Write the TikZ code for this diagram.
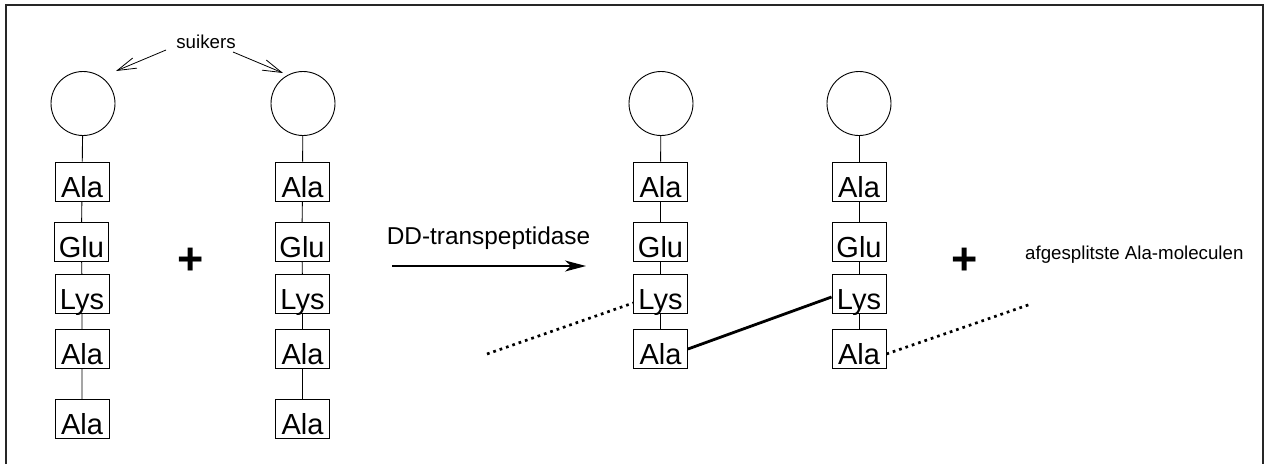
\documentclass[tikz,border=0pt]{standalone}
\usepackage{fontspec}
\setmainfont{Liberation Sans}
\usetikzlibrary{arrows.meta,calc}

\begin{document}
\begin{tikzpicture}[x=1pt,y=-1pt,
  sugar/.style={circle,draw,line width=0.9pt,minimum size=64pt,inner sep=0pt},
  aa/.style={draw,line width=0.9pt,minimum width=54pt,inner xsep=0pt,inner ysep=0pt,
             text height=35pt,text depth=4pt,font=\fontsize{29}{30}\selectfont},
  link/.style={line width=0.9pt},
  plusnode/.style={font=\fontsize{45}{45}\selectfont\bfseries,inner sep=0pt},
  smalltext/.style={font=\fontsize{18.7}{20}\selectfont,inner sep=0pt},
  bigtext/.style={font=\fontsize{24.4}{26}\selectfont,inner sep=0pt},
  dotline/.style={line width=2.7pt,dash pattern=on 2.7pt off 4pt},
  crosslink/.style={line width=2.8pt},
  pointer/.style={line width=0.8pt,-{Straight Barb[length=19pt,width=11pt]}}]

  \useasboundingbox (0,0) rectangle (1266,464);

  % frame (open at the bottom)
  \draw[line width=1.6pt,black!85] (6,464) -- (6,5) -- (1263,5) -- (1263,464);

  % left chain 1
  \node[sugar] (s1) at (83,103.5) {};
  \node[aa] (a11) at (82,181.5) {Ala};
  \node[aa] (g1)  at (81.5,242) {Glu};
  \node[aa] (l1)  at (82,294) {Lys};
  \node[aa] (a14) at (82,349) {Ala};
  \node[aa] (a15) at (82,419) {Ala};
  \draw[link] (s1) -- (a11) (a11) -- (g1) (g1) -- (l1) (l1) -- (a14) (a14) -- (a15);

  % left chain 2
  \node[sugar] (s2) at (303,103.5) {};
  \node[aa] (a21) at (302.5,181.5) {Ala};
  \node[aa] (g2)  at (302,242) {Glu};
  \node[aa] (l2)  at (302.5,294) {Lys};
  \node[aa] (a24) at (302.5,349) {Ala};
  \node[aa] (a25) at (302.5,419) {Ala};
  \draw[link] (s2) -- (a21) (a21) -- (g2) (g2) -- (l2) (l2) -- (a24) (a24) -- (a25);

  % sugar label
  \node[smalltext,anchor=base] (suikers) at (206,48) {suikers};
  \coordinate (fromL) at (166,50);
  \coordinate (toL) at (116,71);
  \coordinate (fromR) at (233,52);
  \coordinate (toR) at (283,73);
  \draw[pointer] (fromL) -- (toL);
  \draw[pointer] (fromR) -- (toR);

  \node[plusnode] (plus1) at (190.5,261.5) {+};

  % enzyme reaction arrow
  \node[bigtext,anchor=base] (enzyme) at (488.5,244.5) {DD-transpeptidase};
  \coordinate (rxA) at (392,266);
  \coordinate (rxB) at (586,266);
  \draw[line width=1.3pt,-{Stealth[length=21pt,width=11pt,inset=6pt]}] (rxA) -- (rxB);

  % cross-linked chain 3
  \node[sugar] (s3) at (661,103.5) {};
  \node[aa] (a31) at (660.5,181.5) {Ala};
  \node[aa] (g3)  at (660.5,242) {Glu};
  \node[aa] (l3)  at (660.5,294) {Lys};
  \node[aa] (a34) at (660.5,349) {Ala};
  \draw[link] (s3) -- (a31) (a31) -- (g3) (g3) -- (l3) (l3) -- (a34);

  % cross-linked chain 4
  \node[sugar] (s4) at (859,103.5) {};
  \node[aa] (a41) at (859,181.5) {Ala};
  \node[aa] (g4)  at (859,242) {Glu};
  \node[aa] (l4)  at (859,294) {Lys};
  \node[aa] (a44) at (859,349) {Ala};
  \draw[link] (s4) -- (a41) (a41) -- (g4) (g4) -- (l4) (l4) -- (a44);

  % peptide cross-links
  \coordinate (openL) at (487,354);
  \coordinate (openR) at (1031,304);
  \draw[dotline] (openL) -- ($(l3.west)+(0,9)$);
  \draw[crosslink] (a34.east) -- ($(l4.west)+(0,3)$);
  \draw[dotline] ($(a44.east)+(0,5)$) -- (openR);

  \node[plusnode] (plus2) at (964.5,261.5) {+};
  \node[smalltext,anchor=base west] (released) at (1025,259) {afgesplitste Ala-moleculen};
\end{tikzpicture}
\end{document}
